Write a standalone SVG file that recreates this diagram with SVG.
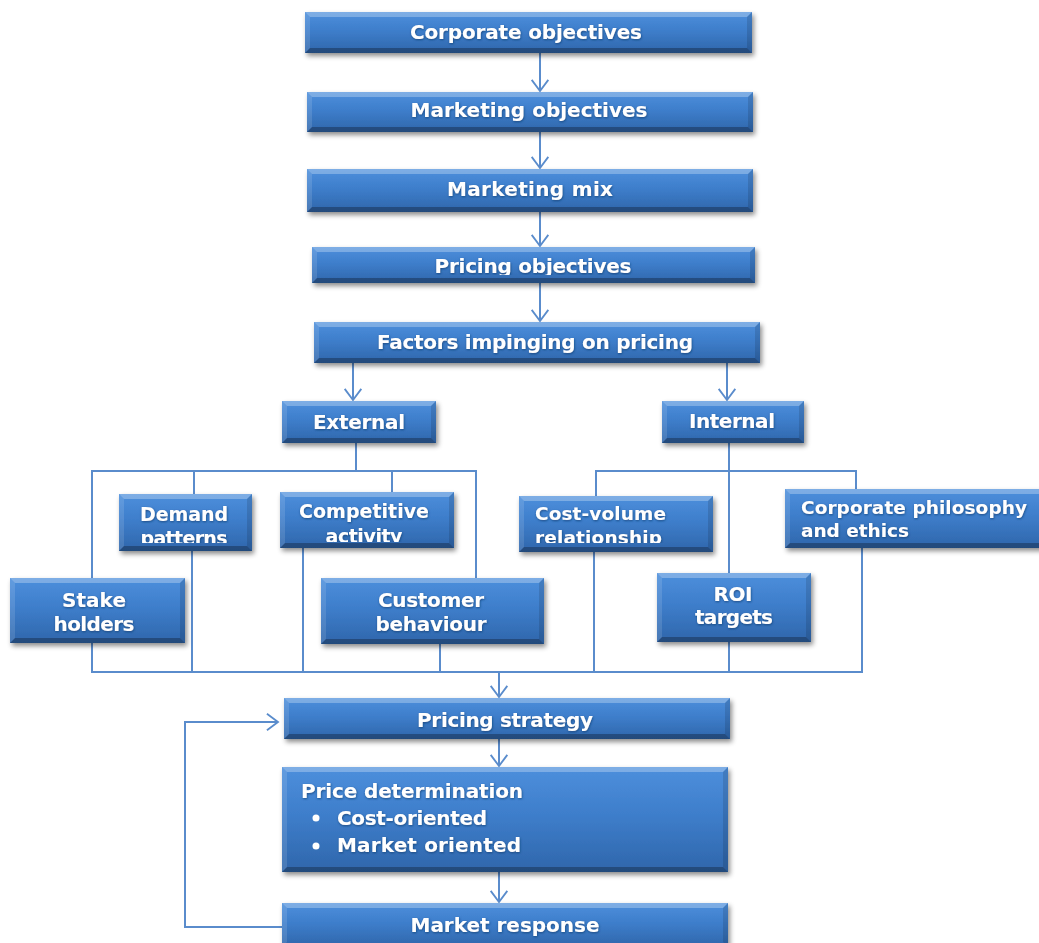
<svg xmlns="http://www.w3.org/2000/svg" width="1039" height="943" viewBox="0 0 1039 943">
  <defs>
    <linearGradient id="boxFill" x1="0" y1="0" x2="0" y2="1">
      <stop offset="0" stop-color="#4d8fdc"/>
      <stop offset="0.45" stop-color="#3e7ecb"/>
      <stop offset="1" stop-color="#2f66ab"/>
    </linearGradient>
    <filter id="boxShadow" x="-10%" y="-20%" width="120%" height="160%">
      <feDropShadow dx="2" dy="3" stdDeviation="2.5" flood-color="#000" flood-opacity="0.45"/>
    </filter>
    <filter id="textGlow" x="-5%" y="-30%" width="110%" height="160%">
      <feDropShadow dx="0.5" dy="1" stdDeviation="1" flood-color="#173a6a" flood-opacity="0.75"/>
    </filter>
    <marker id="chevron" markerUnits="userSpaceOnUse" markerWidth="24" markerHeight="24" viewBox="-13 -12 26 24" refX="0" refY="0" orient="auto">
      <path d="M-12,-9 L0,0 L-12,9" fill="none" stroke="#5a8ccc" stroke-width="2"/>
    </marker>
    <clipPath id="clipPricingObj"><rect x="312" y="247" width="443" height="28"/></clipPath>
    <clipPath id="clipDemand"><rect x="119" y="494" width="133" height="49"/></clipPath>
    <clipPath id="clipCompetitive"><rect x="280" y="492" width="174" height="50"/></clipPath>
    <clipPath id="clipCostVolume"><rect x="519" y="496" width="194" height="47"/></clipPath>
  </defs>
  <style>
    .box { fill: url(#boxFill); filter: url(#boxShadow); }
    .bt { fill: #ffffff; fill-opacity: 0.28; }
    .bl { fill: #ffffff; fill-opacity: 0.12; }
    .br { fill: #000000; fill-opacity: 0.12; }
    .bb { fill: #000000; fill-opacity: 0.28; }
    .lbl { fill: #ffffff; font-family: "DejaVu Sans", "Liberation Sans", sans-serif; font-weight: bold; filter: url(#textGlow); }
    .big { font-size: 20px; }
    .sm { font-size: 19px; }
    .xs { font-size: 18.5px; }
    .mid { text-anchor: middle; }
    .wire { fill: none; stroke: #5a8ccc; stroke-width: 2; }
    .arrow { marker-end: url(#chevron); }
  </style>

  <rect width="1039" height="943" fill="#ffffff"/>

  <g id="connectors">
    <!-- main chain -->
    <path class="wire arrow" d="M540,53 V91"/>
    <path class="wire arrow" d="M540,132 V168"/>
    <path class="wire arrow" d="M540,212 V246"/>
    <path class="wire arrow" d="M540,283 V321"/>
    <path class="wire arrow" d="M353,363 V400"/>
    <path class="wire arrow" d="M727,363 V400"/>
    <!-- external factors tree -->
    <path class="wire" d="M356,443 V471"/>
    <path class="wire" d="M92,578 V471 H476 V578"/>
    <path class="wire" d="M194,471 V494"/>
    <path class="wire" d="M392,471 V492"/>
    <!-- internal factors tree -->
    <path class="wire" d="M729,443 V573"/>
    <path class="wire" d="M596,496 V471 H856 V489"/>
    <!-- collector line -->
    <path class="wire" d="M92,643 V672 H862 V548"/>
    <path class="wire" d="M192,551 V672"/>
    <path class="wire" d="M303,548 V672"/>
    <path class="wire" d="M440,644 V672"/>
    <path class="wire" d="M594,552 V672"/>
    <path class="wire" d="M729,642 V672"/>
    <path class="wire arrow" d="M499,672 V697"/>
    <!-- lower chain -->
    <path class="wire arrow" d="M499,739 V766"/>
    <path class="wire arrow" d="M499,872 V902"/>
    <!-- feedback loop -->
    <path class="wire arrow" d="M282,927 H185 V722 H278"/>
  </g>

  <g id="corporate-objectives">
    <rect class="box" x="305" y="12" width="447" height="41"/>
    <path class="bt" d="M305,12H752L747,17H310Z"/>
    <path class="bb" d="M305,53H752L747,48H310Z"/>
    <path class="bl" d="M305,12L310,17V48L305,53Z"/>
    <path class="br" d="M752,12L747,17V48L752,53Z"/>
    <text class="lbl big mid" x="526" y="39" textLength="232" lengthAdjust="spacing">Corporate objectives</text>
  </g>

  <g id="marketing-objectives">
    <rect class="box" x="307" y="92" width="446" height="40"/>
    <path class="bt" d="M307,92H753L748,97H312Z"/>
    <path class="bb" d="M307,132H753L748,127H312Z"/>
    <path class="bl" d="M307,92L312,97V127L307,132Z"/>
    <path class="br" d="M753,92L748,97V127L753,132Z"/>
    <text class="lbl big mid" x="529" y="117" textLength="237" lengthAdjust="spacing">Marketing objectives</text>
  </g>

  <g id="marketing-mix">
    <rect class="box" x="307" y="169" width="446" height="43"/>
    <path class="bt" d="M307,169H753L748,174H312Z"/>
    <path class="bb" d="M307,212H753L748,207H312Z"/>
    <path class="bl" d="M307,169L312,174V207L307,212Z"/>
    <path class="br" d="M753,169L748,174V207L753,212Z"/>
    <text class="lbl big mid" x="530" y="196" textLength="166" lengthAdjust="spacing">Marketing mix</text>
  </g>

  <g id="pricing-objectives">
    <rect class="box" x="312" y="247" width="443" height="36"/>
    <path class="bt" d="M312,247H755L750,252H317Z"/>
    <path class="bb" d="M312,283H755L750,278H317Z"/>
    <path class="bl" d="M312,247L317,252V278L312,283Z"/>
    <path class="br" d="M755,247L750,252V278L755,283Z"/>
    <g clip-path="url(#clipPricingObj)">
      <text class="lbl big mid" x="533" y="273" textLength="197" lengthAdjust="spacing">Pricing objectives</text>
    </g>
  </g>

  <g id="factors">
    <rect class="box" x="314" y="322" width="446" height="41"/>
    <path class="bt" d="M314,322H760L755,327H319Z"/>
    <path class="bb" d="M314,363H760L755,358H319Z"/>
    <path class="bl" d="M314,322L319,327V358L314,363Z"/>
    <path class="br" d="M760,322L755,327V358L760,363Z"/>
    <text class="lbl big mid" x="535" y="349" textLength="316" lengthAdjust="spacing">Factors impinging on pricing</text>
  </g>

  <g id="external">
    <rect class="box" x="282" y="401" width="154" height="42"/>
    <path class="bt" d="M282,401H436L431,406H287Z"/>
    <path class="bb" d="M282,443H436L431,438H287Z"/>
    <path class="bl" d="M282,401L287,406V438L282,443Z"/>
    <path class="br" d="M436,401L431,406V438L436,443Z"/>
    <text class="lbl big mid" x="359" y="429" textLength="92" lengthAdjust="spacing">External</text>
  </g>

  <g id="internal">
    <rect class="box" x="662" y="401" width="142" height="42"/>
    <path class="bt" d="M662,401H804L799,406H667Z"/>
    <path class="bb" d="M662,443H804L799,438H667Z"/>
    <path class="bl" d="M662,401L667,406V438L662,443Z"/>
    <path class="br" d="M804,401L799,406V438L804,443Z"/>
    <text class="lbl big mid" x="732" y="428" textLength="86" lengthAdjust="spacing">Internal</text>
  </g>

  <g id="demand-patterns">
    <rect class="box" x="119" y="494" width="133" height="57"/>
    <path class="bt" d="M119,494H252L247,499H124Z"/>
    <path class="bb" d="M119,551H252L247,546H124Z"/>
    <path class="bl" d="M119,494L124,499V546L119,551Z"/>
    <path class="br" d="M252,494L247,499V546L252,551Z"/>
    <g clip-path="url(#clipDemand)">
      <text class="lbl sm mid" x="184" y="521" textLength="88" lengthAdjust="spacing">Demand</text>
      <text class="lbl sm mid" x="184" y="545" textLength="87" lengthAdjust="spacing">patterns</text>
    </g>
  </g>

  <g id="competitive-activity">
    <rect class="box" x="280" y="492" width="174" height="56"/>
    <path class="bt" d="M280,492H454L449,497H285Z"/>
    <path class="bb" d="M280,548H454L449,543H285Z"/>
    <path class="bl" d="M280,492L285,497V543L280,548Z"/>
    <path class="br" d="M454,492L449,497V543L454,548Z"/>
    <g clip-path="url(#clipCompetitive)">
      <text class="lbl sm mid" x="364" y="518" textLength="130" lengthAdjust="spacing">Competitive</text>
      <text class="lbl sm mid" x="364" y="543" textLength="77" lengthAdjust="spacing">activity</text>
    </g>
  </g>

  <g id="stake-holders">
    <rect class="box" x="10" y="578" width="175" height="65"/>
    <path class="bt" d="M10,578H185L180,583H15Z"/>
    <path class="bb" d="M10,643H185L180,638H15Z"/>
    <path class="bl" d="M10,578L15,583V638L10,643Z"/>
    <path class="br" d="M185,578L180,583V638L185,643Z"/>
    <text class="lbl big mid" x="94" y="607" textLength="64" lengthAdjust="spacing">Stake</text>
    <text class="lbl big mid" x="94" y="631" textLength="81" lengthAdjust="spacing">holders</text>
  </g>

  <g id="customer-behaviour">
    <rect class="box" x="321" y="578" width="223" height="66"/>
    <path class="bt" d="M321,578H544L539,583H326Z"/>
    <path class="bb" d="M321,644H544L539,639H326Z"/>
    <path class="bl" d="M321,578L326,583V639L321,644Z"/>
    <path class="br" d="M544,578L539,583V639L544,644Z"/>
    <text class="lbl big mid" x="431" y="607" textLength="106" lengthAdjust="spacing">Customer</text>
    <text class="lbl big mid" x="431" y="631" textLength="111" lengthAdjust="spacing">behaviour</text>
  </g>

  <g id="cost-volume">
    <rect class="box" x="519" y="496" width="194" height="56"/>
    <path class="bt" d="M519,496H713L708,501H524Z"/>
    <path class="bb" d="M519,552H713L708,547H524Z"/>
    <path class="bl" d="M519,496L524,501V547L519,552Z"/>
    <path class="br" d="M713,496L708,501V547L713,552Z"/>
    <g clip-path="url(#clipCostVolume)">
      <text class="lbl xs" x="535" y="520" textLength="131" lengthAdjust="spacing">Cost-volume</text>
      <text class="lbl xs" x="535" y="544" textLength="127" lengthAdjust="spacing">relationship</text>
    </g>
  </g>

  <g id="roi-targets">
    <rect class="box" x="657" y="573" width="154" height="69"/>
    <path class="bt" d="M657,573H811L806,578H662Z"/>
    <path class="bb" d="M657,642H811L806,637H662Z"/>
    <path class="bl" d="M657,573L662,578V637L657,642Z"/>
    <path class="br" d="M811,573L806,578V637L811,642Z"/>
    <text class="lbl big mid" x="733" y="601" textLength="39" lengthAdjust="spacing">ROI</text>
    <text class="lbl big mid" x="734" y="624" textLength="78" lengthAdjust="spacing">targets</text>
  </g>

  <g id="corporate-philosophy">
    <rect class="box" x="785" y="489" width="260" height="59"/>
    <path class="bt" d="M785,489H1045L1040,494H790Z"/>
    <path class="bb" d="M785,548H1045L1040,543H790Z"/>
    <path class="bl" d="M785,489L790,494V543L785,548Z"/>
    <text class="lbl xs" x="801" y="514" textLength="226" lengthAdjust="spacing">Corporate philosophy</text>
    <text class="lbl xs" x="801" y="537" textLength="108" lengthAdjust="spacing">and ethics</text>
  </g>

  <g id="pricing-strategy">
    <rect class="box" x="284" y="698" width="446" height="41"/>
    <path class="bt" d="M284,698H730L725,703H289Z"/>
    <path class="bb" d="M284,739H730L725,734H289Z"/>
    <path class="bl" d="M284,698L289,703V734L284,739Z"/>
    <path class="br" d="M730,698L725,703V734L730,739Z"/>
    <text class="lbl big mid" x="505" y="727" textLength="176" lengthAdjust="spacing">Pricing strategy</text>
  </g>

  <g id="price-determination">
    <rect class="box" x="282" y="767" width="446" height="105"/>
    <path class="bt" d="M282,767H728L723,772H287Z"/>
    <path class="bb" d="M282,872H728L723,867H287Z"/>
    <path class="bl" d="M282,767L287,772V867L282,872Z"/>
    <path class="br" d="M728,767L723,772V867L728,872Z"/>
    <text class="lbl big" x="301" y="798" textLength="222" lengthAdjust="spacing">Price determination</text>
    <circle cx="316" cy="818" r="3.5" fill="#ffffff"/>
    <text class="lbl big" x="337" y="825" textLength="150" lengthAdjust="spacing">Cost-oriented</text>
    <circle cx="316" cy="846" r="3.5" fill="#ffffff"/>
    <text class="lbl big" x="337" y="852" textLength="184" lengthAdjust="spacing">Market oriented</text>
  </g>

  <g id="market-response">
    <rect class="box" x="282" y="903" width="446" height="44"/>
    <path class="bt" d="M282,903H728L723,908H287Z"/>
    <path class="bl" d="M282,903L287,908V942L282,947Z"/>
    <path class="br" d="M728,903L723,908V942L728,947Z"/>
    <text class="lbl big mid" x="505" y="932" textLength="189" lengthAdjust="spacing">Market response</text>
  </g>
</svg>
